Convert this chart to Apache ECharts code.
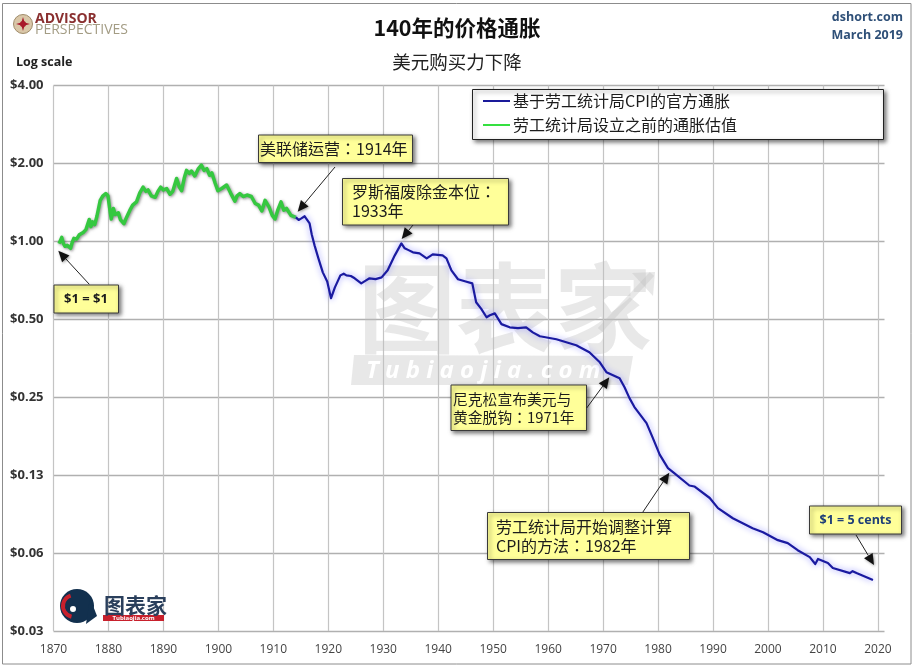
<!DOCTYPE html>
<html style="height: 100%">

<head>
  <meta charset="utf-8">
</head>

<body style="height: 100%; margin: 0; background: #fff">
  <div id="container" style="height: 669px; width: 915px"></div>
  <script type="text/javascript" src="https://cdnjs.cloudflare.com/ajax/libs/echarts/6.0.0/echarts.min.js"></script>
  <script type="text/javascript">
    var myChart = echarts.init(document.getElementById("container"));
    var cjk = '"Noto Sans CJK SC", sans-serif';
    var cjkTc = '"Noto Sans CJK TC", sans-serif'; // centred full-width colon
    var latin = '"Open Sans", "Noto Sans", sans-serif';

    // value of $1 by year
    var green = [
      [1871.0, 0.98], [1871.3, 0.99], [1871.5, 1.036], [1871.8, 0.98], [1872.1, 0.957], [1872.5, 0.965], [1873.1, 0.94],
      [1873.4, 0.99], [1873.7, 1.027], [1874.2, 1.02], [1874.7, 1.06], [1875.4, 1.083], [1875.9, 1.11], [1876.2, 1.16],
      [1876.5, 1.215], [1876.8, 1.14], [1877.1, 1.19], [1877.5, 1.16], [1877.9, 1.25], [1878.5, 1.44], [1879.0, 1.50],
      [1879.5, 1.53], [1879.9, 1.50], [1880.2, 1.35], [1880.5, 1.22], [1880.9, 1.34], [1881.2, 1.27], [1881.8, 1.29],
      [1882.2, 1.21], [1882.8, 1.17], [1883.3, 1.24], [1883.9, 1.32], [1884.4, 1.38], [1885.1, 1.42], [1885.7, 1.54],
      [1886.3, 1.62], [1886.8, 1.56], [1887.2, 1.58], [1887.8, 1.50], [1888.5, 1.48], [1889.0, 1.56], [1889.5, 1.62],
      [1890.0, 1.58], [1890.6, 1.60], [1891.2, 1.52], [1891.7, 1.56], [1892.4, 1.75], [1892.9, 1.62], [1893.3, 1.57],
      [1893.8, 1.76], [1894.2, 1.88], [1894.7, 1.83], [1895.1, 1.87], [1895.7, 1.79], [1896.3, 1.90], [1896.9, 1.97],
      [1897.4, 1.88], [1897.9, 1.91], [1898.4, 1.80], [1898.8, 1.84], [1899.4, 1.68], [1899.9, 1.57], [1900.6, 1.60],
      [1901.5, 1.65], [1902.2, 1.54], [1903.0, 1.43], [1903.4, 1.50], [1903.9, 1.53], [1904.5, 1.49], [1905.2, 1.51],
      [1906.0, 1.49], [1906.7, 1.40], [1907.3, 1.38], [1907.9, 1.31], [1908.5, 1.44], [1909.2, 1.36], [1909.8, 1.26],
      [1910.3, 1.22], [1910.8, 1.32], [1911.4, 1.42], [1911.9, 1.32], [1912.4, 1.34], [1913.2, 1.26], [1914.1, 1.238]
    ];
    var blue = [
      [1914.1, 1.238], [1914.6, 1.21], [1915.1, 1.227], [1915.7, 1.25], [1916.6, 1.173], [1917.0, 1.06], [1917.5, 0.965],
      [1918.2, 0.86], [1919.0, 0.759], [1919.8, 0.70], [1920.5, 0.603], [1921.2, 0.664], [1922.2, 0.739], [1922.8, 0.75],
      [1923.3, 0.739], [1924.1, 0.735], [1924.8, 0.72], [1926.0, 0.688], [1926.8, 0.705], [1927.5, 0.72], [1928.6, 0.715],
      [1929.7, 0.726], [1930.8, 0.773], [1932.1, 0.883], [1933.3, 0.982], [1933.9, 0.94], [1934.6, 0.925], [1935.4, 0.907],
      [1936.6, 0.899], [1937.9, 0.86], [1939.0, 0.891], [1940.8, 0.883], [1941.5, 0.86], [1942.4, 0.773], [1943.6, 0.714],
      [1945.0, 0.70], [1946.2, 0.688], [1946.9, 0.582], [1947.8, 0.55], [1948.8, 0.509], [1949.4, 0.518], [1950.3, 0.527],
      [1951.5, 0.479], [1953.0, 0.4655], [1954.5, 0.462], [1956.0, 0.4655], [1957.2, 0.445], [1958.5, 0.43], [1961.5, 0.4185],
      [1965.1, 0.397], [1967.5, 0.373], [1969.4, 0.341], [1970.6, 0.3125], [1973.0, 0.296], [1973.9, 0.273], [1974.8, 0.248],
      [1975.7, 0.229], [1977.9, 0.1985], [1979.0, 0.175], [1980.3, 0.15], [1981.8, 0.133], [1983.0, 0.127],
      [1985.7, 0.114], [1986.6, 0.113], [1989.4, 0.102], [1990.9, 0.0932], [1993.6, 0.0852], [1997.2, 0.078],
      [1999.1, 0.0752], [2001.8, 0.0701], [2003.6, 0.0683], [2005.4, 0.0641], [2007.6, 0.0603], [2008.6, 0.0567],
      [2009.1, 0.0593], [2010.9, 0.0572], [2011.8, 0.0547], [2014.9, 0.0523], [2015.4, 0.0532], [2016.1, 0.0523],
      [2019.1, 0.0492]
    ];

    function box(x1, y1, x2, y2) {
      return {
        type: 'rect', z: 20, shape: { x: x1, y: y1, width: x2 - x1, height: y2 - y1 },
        style: { fill: '#ffff99', stroke: '#3a3a3a', lineWidth: 1, shadowBlur: 4, shadowOffsetX: 2, shadowOffsetY: 2, shadowColor: 'rgba(0,0,0,0.5)' }
      };
    }
    function label(x, y, s, size, opt) {
      opt = opt || {};
      return {
        type: 'text', z: opt.z || 21, x: x, y: y,
        style: {
          text: s, fill: opt.color || '#1c1c1c', align: opt.align || 'left', verticalAlign: 'middle',
          font: (opt.weight || 'normal') + ' ' + size + 'px ' + (opt.family || cjk), lineHeight: opt.lineHeight
        }
      };
    }
    function arrow(x1, y1, x2, y2) {
      var a = Math.atan2(y2 - y1, x2 - x1), l = 11, w = 5;
      var bx = x2 - l * Math.cos(a), by = y2 - l * Math.sin(a);
      return [{
        type: 'line', z: 22, shape: { x1: x1, y1: y1, x2: bx, y2: by },
        style: { stroke: '#222', lineWidth: 1 }
      }, {
        type: 'polygon', z: 22,
        shape: { points: [[x2, y2], [bx - w * Math.sin(a), by + w * Math.cos(a)], [bx + w * Math.sin(a), by - w * Math.cos(a)]] },
        style: { fill: '#111', shadowBlur: 3, shadowOffsetX: 1, shadowOffsetY: 1, shadowColor: 'rgba(0,0,0,0.4)' }
      }];
    }

    var g = [
      // frame
      { type: 'rect', z: 0, shape: { x: 2.5, y: 3.5, width: 908.5, height: 660.5 }, style: { fill: 'none', stroke: '#8c8c8c', lineWidth: 1 } },
      // watermark
      label(358, 308, '图表家', 98, { z: 1, weight: 'bold', color: 'rgba(190,190,190,0.36)' }),
      { type: 'polyline', z: 1, shape: { points: [[600, 330], [652, 274]] }, style: { stroke: 'rgba(190,190,190,0.36)', lineWidth: 6, fill: 'none' } },
      { type: 'polygon', z: 1, shape: { points: [[632, 273], [655, 272], [653, 296]] }, style: { fill: 'rgba(190,190,190,0.36)' } },
      { type: 'polygon', z: 1, shape: { points: [[354, 355], [633, 356], [628, 385], [351, 385]] }, style: { fill: 'rgba(190,190,190,0.36)' } },
      label(366, 371, 'T u b i a o j i a . c o m', 24, { z: 1, weight: 'italic bold', family: latin, color: '#ffffff' }),
      // advisor logo
      { type: 'circle', z: 5, shape: { cx: 23, cy: 24, r: 9.5 }, style: { fill: '#d9c7a8', stroke: '#a08c6a', lineWidth: 1 } },
      { type: 'polygon', z: 6, shape: { points: [[23, 17], [24.6, 22.4], [30, 24], [24.6, 25.6], [23, 31], [21.4, 25.6], [16, 24], [21.4, 22.4]] }, style: { fill: '#a8182a' } },
      { type: 'circle', z: 6, shape: { cx: 23, cy: 24, r: 3 }, style: { fill: '#a8182a' } },
      label(35, 19, 'ADVISOR', 14, { weight: 'bold', color: '#8a3030', family: latin }),
      label(35, 30, 'PERSPECTIVES', 14, { color: '#a39c84', family: latin }),
      // titles
      label(457, 28, '140年的价格通胀', 21.5, { align: 'center', weight: 'bold', color: '#111' }),
      label(457, 62, '美元购买力下降', 18.5, { align: 'center', color: '#222' }),
      label(16, 62, 'Log scale', 12.5, { weight: 'bold', family: latin, color: '#222' }),
      label(903, 17, 'dshort.com', 12.5, { align: 'right', weight: 'bold', family: latin, color: '#2f5078' }),
      label(903, 35, 'March 2019', 12.5, { align: 'right', weight: 'bold', family: latin, color: '#2f5078' }),
      // bottom logo
      { type: 'circle', z: 5, shape: { cx: 77, cy: 606, r: 17 }, style: { fill: '#12304e' } },
      { type: 'polygon', z: 5, shape: { points: [[90, 598], [97, 616], [86, 624]] }, style: { fill: '#12304e' } },
      { type: 'arc', z: 6, shape: { cx: 74, cy: 606, r: 11, startAngle: 1.8, endAngle: 4.4 }, style: { stroke: '#c8202c', lineWidth: 4, fill: 'none' } },
      { type: 'circle', z: 6, shape: { cx: 73, cy: 609, r: 4 }, style: { fill: '#fff', stroke: '#12304e', lineWidth: 2 } },
      label(104, 605, '图表家', 21, { z: 6, weight: 'bold', color: '#2a3f5c' }),
      { type: 'rect', z: 5, shape: { x: 103, y: 615, width: 61, height: 6 }, style: { fill: '#c8202c' } },
      label(133.5, 618, 'Tubiaojia.com', 6, { z: 6, align: 'center', weight: 'bold', family: latin, color: '#fff' }),
      // legend panel
      { type: 'rect', z: 15, shape: { x: 472.5, y: 89.5, width: 411, height: 50 }, style: { fill: '#fff', stroke: '#222', lineWidth: 1, shadowBlur: 4, shadowOffsetX: 2, shadowOffsetY: 2, shadowColor: 'rgba(0,0,0,0.5)' } },
      // call-outs
      box(258.5, 135, 412.5, 162.5), label(260, 149, '美联储运营：1914年', 16, { family: cjkTc }),
      box(342.5, 178.5, 508.5, 225), label(352, 201.5, '罗斯福废除金本位：\n1933年', 16, { lineHeight: 19, family: cjkTc }),
      box(54, 285, 118.5, 313), label(86, 299, '$1 = $1', 13, { align: 'center', weight: 'bold', family: latin }),
      box(451, 385, 586.5, 430.5), label(453, 408, '尼克松宣布美元与\n黄金脱钩：1971年', 14.8, { lineHeight: 18, family: cjkTc }),
      box(487.5, 512.5, 689.5, 559.5), label(496, 536, '劳工统计局开始调整计算\nCPI的方法：1982年', 16, { lineHeight: 19, family: cjkTc }),
      box(809.5, 506, 901.5, 534), label(855.5, 520, '$1 = 5 cents', 12.5, { align: 'center', weight: 'bold', family: latin, color: '#1f3f78' })
    ];
    g = g.concat(
      arrow(335, 167, 297.7, 211.7), arrow(413, 225, 401.7, 239), arrow(89.3, 284.3, 58.3, 250.7),
      arrow(586.7, 408, 609.3, 377.3), arrow(642.7, 512.3, 669.3, 472.7), arrow(856, 535, 874, 565)
    );

    var option = {
      animation: false,
      backgroundColor: '#fff',
      grid: { left: 53.5, top: 85.5, width: 831, height: 545.5, containLabel: false },
      legend: {
        z: 30, orient: 'vertical', left: 478, top: 88, itemWidth: 27, itemHeight: 2, itemGap: 8,
        textStyle: { fontFamily: cjk, fontSize: 16, color: '#1c1c1c', padding: [0, 0, 0, -2] },
        data: [
          { name: '基于劳工统计局CPI的官方通胀', icon: 'rect' },
          { name: '劳工统计局设立之前的通胀估值', icon: 'rect' }
        ]
      },
      xAxis: {
        type: 'value', min: 1870, max: 2021.2, interval: 10,
        axisLine: { show: false }, axisTick: { show: false },
        axisLabel: {
          color: '#444', fontFamily: latin, fontSize: 12, margin: 13, showMaxLabel: false,
          formatter: function (v) { return String(v); }
        },
        splitLine: { show: true, showMaxLine: false, lineStyle: { color: '#c4c4c4', width: 1.2 } }
      },
      yAxis: {
        type: 'log', logBase: 2, min: 0.03125, max: 4,
        axisLine: { show: false }, axisTick: { show: false },
        axisLabel: {
          color: '#333', fontFamily: latin, fontWeight: 'bold', fontSize: 13, margin: 10,
          formatter: function (v) { return '$' + v.toFixed(2); }
        },
        splitLine: { show: true, lineStyle: { color: '#b0b0b0', width: 1.4 } },
        minorSplitLine: { show: false }
      },
      series: [{
        name: '基于劳工统计局CPI的官方通胀', type: 'line', data: blue, showSymbol: false, symbol: 'none', z: 4,
        lineStyle: { color: '#1a1aa0', width: 2.2, shadowBlur: 6, shadowColor: '#8f8fff', join: 'round' },
        itemStyle: { color: '#1a1a9a' }
      }, {
        name: '劳工统计局设立之前的通胀估值', type: 'line', data: green, showSymbol: false, symbol: 'none', z: 3,
        lineStyle: { color: '#35c840', width: 3.5, shadowBlur: 3, shadowColor: 'rgba(60,60,60,0.6)', shadowOffsetX: 1, shadowOffsetY: 1, join: 'round' },
        itemStyle: { color: '#35e040' }
      }],
      graphic: { elements: g }
    };
    myChart.setOption(option);
  </script>
</body>

</html>
